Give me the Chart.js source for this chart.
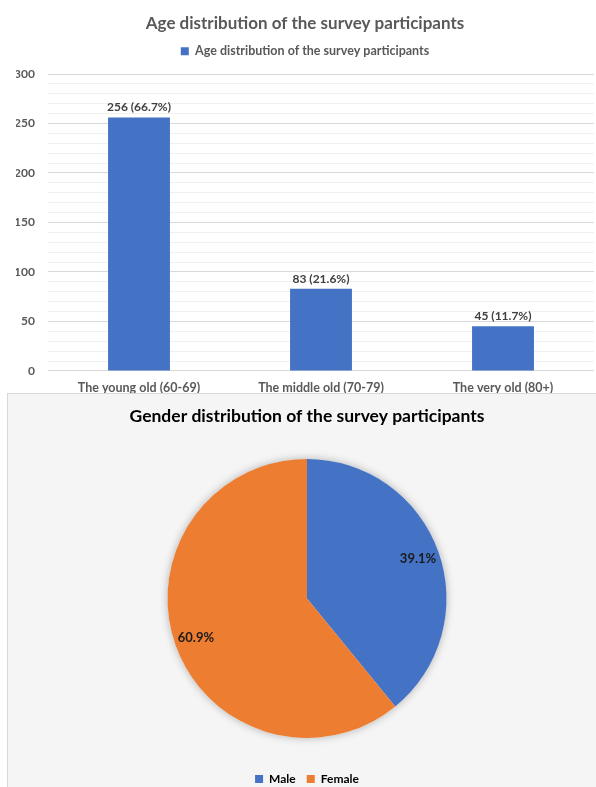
<!DOCTYPE html>
<html>
<head>
<meta charset="utf-8">
<script src="https://cdn.jsdelivr.net/npm/chart.js@4.4.0/dist/chart.umd.min.js"></script>
<style>
  html, body { margin: 0; padding: 0; background: #fff; overflow: hidden; }
  #ageBox { position: absolute; left: 0; top: 0; width: 596px; height: 410px; }
  #genderPanel { position: absolute; left: 7px; top: 393px; width: 589px; height: 394px;
    background: #f5f5f5; border-top: 1px solid #d9d9d9; border-left: 1px solid #d9d9d9;
    box-sizing: border-box; overflow: hidden; }
  #genderBox { position: relative; width: 588px; height: 401px; }
</style>
</head>
<body>
<div id="ageBox"><canvas id="ageChart"></canvas></div>
<div id="genderPanel"><div id="genderBox"><canvas id="genderChart"></canvas></div></div>
<script>
// ---- data ----
const ageTitle = 'Age distribution of the survey participants';
const ageGroups = ['The young old (60-69)', 'The middle old (70-79)', 'The very old (80+)'];
const ageCounts = [256, 83, 45];
const ageTicks = [0, 50, 100, 150, 200, 250, 300];

const genderTitle = 'Gender distribution of the survey participants';
const genders = ['Male', 'Female'];
const genderShares = [39.1, 60.9];
const genderColors = ['#4472C4', '#ED7D31'];

Chart.defaults.font.family = 'Lato, "Open Sans", sans-serif';
Chart.defaults.animation = false;

// empty layout box, used to leave a gap between legend and plot
function spacer(position, size, weight) {
    return {
        position: position, weight: weight, fullSize: false,
        options: {},
        left: 0, top: 0, right: 0, bottom: 0, width: 0, height: 0,
        isHorizontal() { return position === 'top' || position === 'bottom'; },
        update(maxWidth, maxHeight) {
            if (this.isHorizontal()) { this.width = maxWidth; this.height = size; }
            else { this.width = size; this.height = maxHeight; }
        },
        draw() {}
    };
}

const gapPlugin = {
    id: 'gap',
    beforeInit(chart) {
        Chart.layouts.addBox(chart, spacer('top', 6.5, 500));
    }
};

// value labels above the bars
const barLabels = {
    id: 'barLabels',
    afterDatasetsDraw(chart) {
        const ctx = chart.ctx;
        const total = ageCounts.reduce((a, b) => a + b, 0);
        chart.getDatasetMeta(0).data.forEach((bar, i) => {
            const pct = (ageCounts[i] / total * 100).toFixed(1);
            ctx.save();
            ctx.font = 'bold 12px Lato';
            ctx.fillStyle = '#404040';
            ctx.textAlign = 'center';
            ctx.textBaseline = 'middle';
            ctx.fillText(ageCounts[i] + ' (' + pct + '%)', bar.x, bar.y - 10);
            ctx.restore();
        });
    }
};

new Chart(document.getElementById('ageChart'), {
    type: 'bar',
    data: {
        labels: ageGroups,
        datasets: [{
            label: ageTitle,
            data: ageCounts,
            backgroundColor: '#4472C4',
            barPercentage: 0.34,
            categoryPercentage: 1.0
        }]
    },
    options: {
        responsive: true,
        maintainAspectRatio: false,
        layout: { padding: { left: 16, right: 2, top: 0, bottom: 4.1 } },
        plugins: {
            title: {
                display: true,
                text: ageTitle,
                color: '#595959',
                font: { size: 17, weight: 'bold' },
                padding: { top: 13.8, bottom: 4.8 }
            },
            legend: {
                display: true,
                labels: {
                    color: '#595959',
                    font: { size: 12.5, weight: 'bold' },
                    boxWidth: 8, boxHeight: 8, padding: 6
                }
            },
            tooltip: { enabled: false }
        },
        scales: {
            x: {
                grid: { display: false, drawTicks: false },
                border: { display: false },
                ticks: { color: '#595959', font: { size: 12.5, weight: 'bold' }, padding: 10 }
            },
            y: {
                min: 0, max: 300,
                afterFit(scale) { scale.width = 32; },
                grid: {
                    drawTicks: false,
                    color: (c) => ageTicks.includes(c.tick.value) ? '#d9d9d9' : '#f0f0f0'
                },
                border: { display: false },
                ticks: {
                    stepSize: 10,
                    autoSkip: false,
                    padding: 13,
                    color: '#595959',
                    font: { size: 12, weight: 'bold' },
                    callback: (v) => ageTicks.includes(v) ? v : ''
                }
            }
        }
    },
    plugins: [gapPlugin, barLabels]
});

// soft shadow under the pie
const pieShadow = {
    id: 'pieShadow',
    beforeDatasetsDraw(chart) {
        const arc = chart.getDatasetMeta(0).data[0];
        const ctx = chart.ctx;
        ctx.save();
        ctx.shadowColor = 'rgba(0,0,0,0.28)';
        ctx.shadowBlur = 9;
        ctx.fillStyle = '#f5f5f5';
        ctx.beginPath();
        ctx.arc(arc.x, arc.y, arc.outerRadius, 0, Math.PI * 2);
        ctx.fill();
        ctx.restore();
    }
};

// percentage labels inside the slices
const pieLabels = {
    id: 'pieLabels',
    afterDatasetsDraw(chart) {
        const ctx = chart.ctx;
        chart.getDatasetMeta(0).data.forEach((arc, i) => {
            const mid = (arc.startAngle + arc.endAngle) / 2;
            const r = arc.outerRadius * 0.845;
            ctx.save();
            ctx.font = 'bold 13px Lato';
            ctx.fillStyle = '#1a1a1a';
            ctx.textAlign = 'center';
            ctx.textBaseline = 'middle';
            ctx.fillText(genderShares[i].toFixed(1) + '%', arc.x + Math.cos(mid) * r, arc.y + Math.sin(mid) * r);
            ctx.restore();
        });
    }
};

new Chart(document.getElementById('genderChart'), {
    type: 'pie',
    data: {
        labels: genders,
        datasets: [{
            data: genderShares,
            backgroundColor: genderColors,
            borderWidth: 0,
            radius: 139.5
        }]
    },
    options: {
        responsive: true,
        maintainAspectRatio: false,
        layout: { padding: { left: 10, right: 0, top: 0, bottom: 0 } },
        plugins: {
            title: {
                display: true,
                text: genderTitle,
                color: '#000',
                font: { size: 17.5, weight: 'bold' },
                padding: { top: 11.5, bottom: 8.5 }
            },
            legend: {
                position: 'bottom',
                labels: {
                    color: '#000',
                    font: { size: 12, weight: 'bold' },
                    boxWidth: 8, boxHeight: 8, padding: 11
                }
            },
            tooltip: { enabled: false }
        }
    },
    plugins: [pieShadow, pieLabels]
});
</script>
</body>
</html>
